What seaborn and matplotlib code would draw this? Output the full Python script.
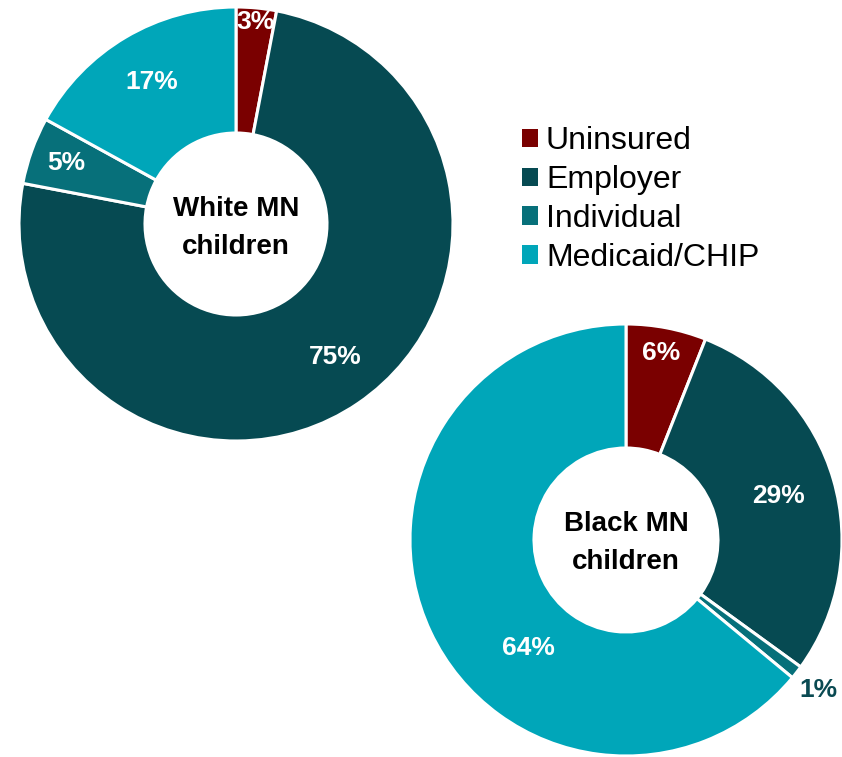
import numpy as np
import matplotlib
matplotlib.use("Agg")
import matplotlib.pyplot as plt
from matplotlib.patches import Patch
import seaborn as sns

# Coverage categories and shares (%)
categories = ["Uninsured", "Employer", "Individual", "Medicaid/CHIP"]
white_values = [3, 75, 5, 17]
black_values = [6, 29, 1, 64]
white_title = "White MN\nchildren"
black_title = "Black MN\nchildren"

palette = ["#7a0000", "#064a52", "#07707a", "#00a6b9"]

sns.set_theme(style="white")
plt.rcParams["font.family"] = ["Liberation Sans", "DejaVu Sans"]
plt.rcParams["text.color"] = "black"

W, H = 842, 757
fig = plt.figure(figsize=(W / 100, H / 100), dpi=100)
ax = fig.add_axes([0, 0, 1, 1])


def donut(center, radius, hole, values, title, title_dy, label_r, label_shift, label_colors):
    wedges, _ = ax.pie(
        values, colors=palette, startangle=90, counterclock=False,
        center=center, radius=radius,
        wedgeprops=dict(width=radius - hole, edgecolor="white", linewidth=2.2),
    )
    for w, v, rf, sh, col in zip(wedges, values, label_r, label_shift, label_colors):
        ang = np.deg2rad((w.theta1 + w.theta2) / 2 + sh)
        x = center[0] + rf * radius * np.cos(ang)
        y = center[1] + rf * radius * np.sin(ang)
        ax.text(x, y, f"{v}%", ha="center", va="center", color=col,
                fontsize=19, fontweight="bold")
    ax.text(center[0], center[1] + title_dy, title, ha="center", va="center",
            fontsize=20, fontweight="bold", color="black", linespacing=1.6)


donut((236, H - 224), 217, 91, white_values, white_title, -4.5,
      [0.935, 0.765, 0.83, 0.76], [0, 2.5, 0, 0],
      ["white"] * 4)
donut((626, H - 540), 216, 92, black_values, black_title, -3,
      [0.88, 0.735, 1.13, 0.675], [0, 0, 0, 22.6],
      ["white", "white", "#0a4a52", "white"])

# pie() resets the view, so fix the pixel-like frame afterwards
ax.set_xlim(0, W)
ax.set_ylim(0, H)
ax.set_aspect("equal")
ax.axis("off")

handles = [Patch(facecolor=c, edgecolor="none") for c in palette]
leg = ax.legend(handles, categories, loc="upper left",
                bbox_to_anchor=(522 / W, 1 - 126 / H), frameon=False,
                fontsize=23, handlelength=0.5, handleheight=0.5,
                handletextpad=0.25, labelspacing=0.28, borderpad=0, borderaxespad=0)
for t in leg.get_texts():
    t.set_color("black")

fig.savefig("out.png", dpi=100, facecolor="white")
